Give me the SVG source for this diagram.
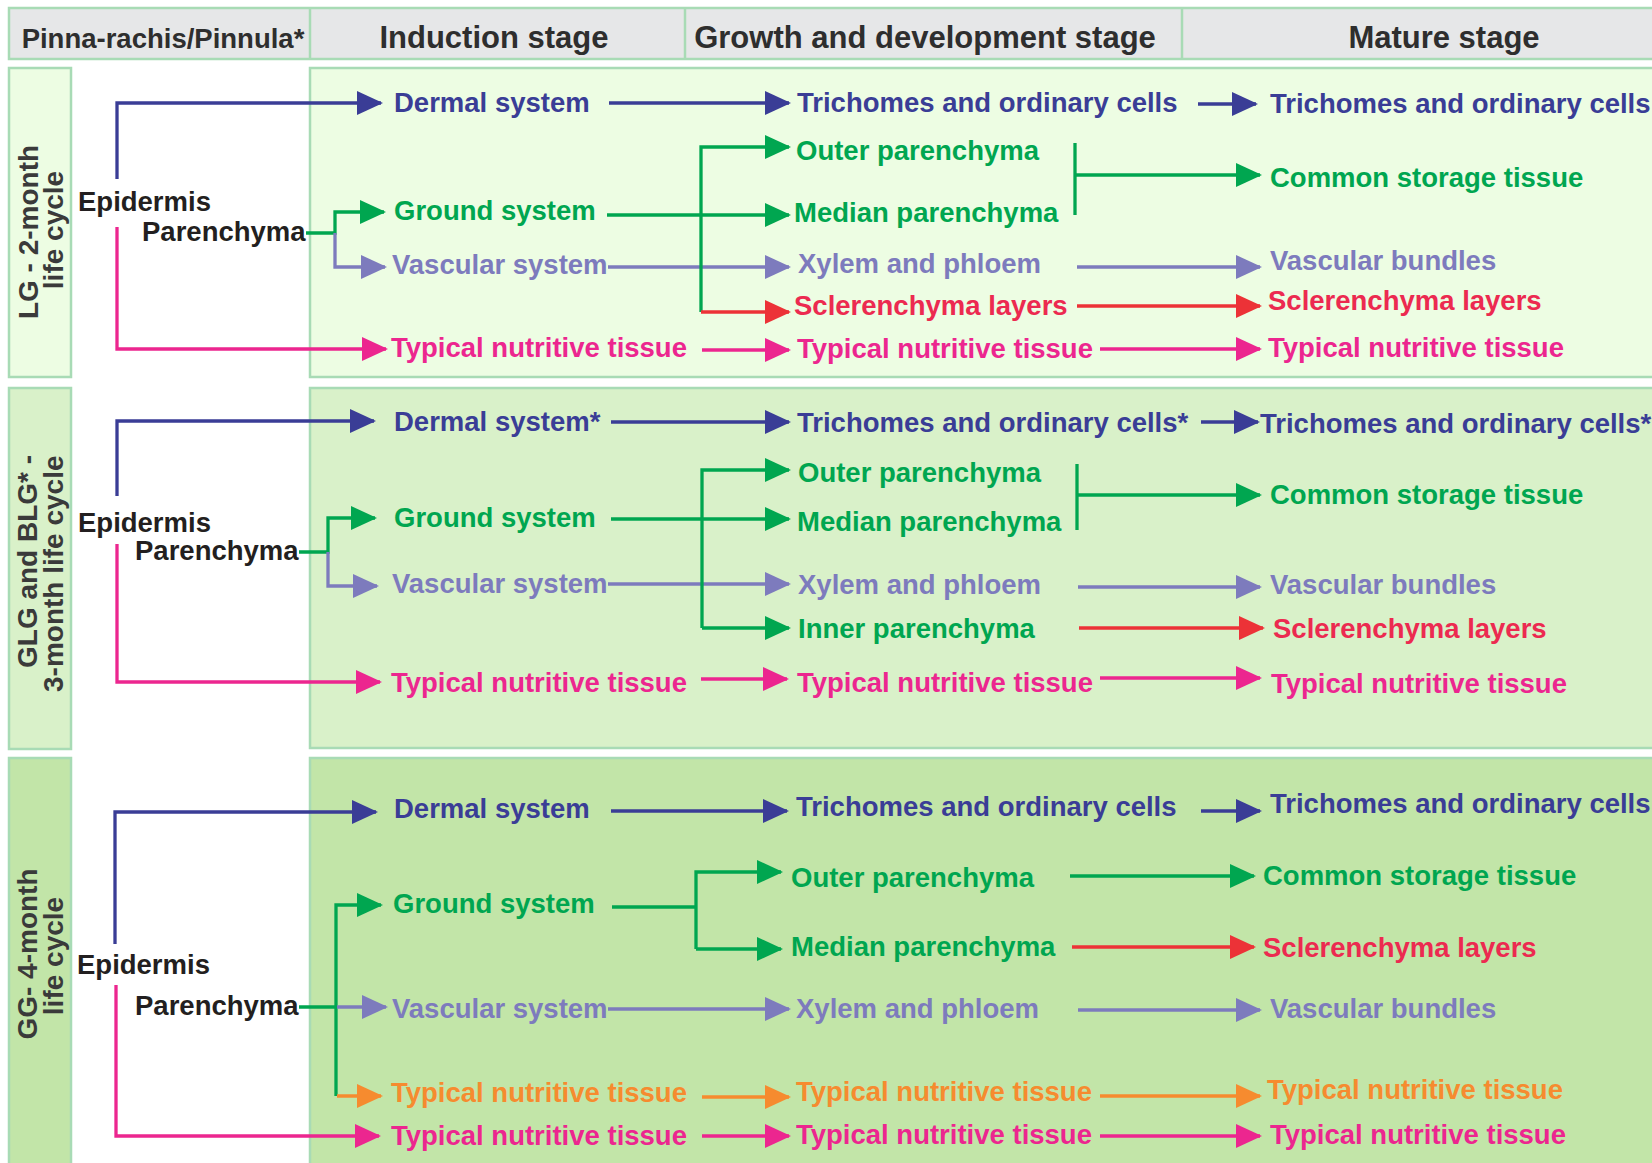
<svg xmlns="http://www.w3.org/2000/svg" width="1652" height="1163" viewBox="0 0 1652 1163">
<style>
text{font-family:"Liberation Sans",Arial,sans-serif;font-weight:bold;font-size:27.5px}
.hd{font-size:31px;fill:#2e2e2e;text-anchor:middle}
.lb{font-size:28px;fill:#3a3a3a}
.k{fill:#231f20}
.b{fill:#3a3d96}.g{fill:#00a650}.v{fill:#7d7bbd}.p{fill:#ec268f}.r{fill:#ec2a50}.o{fill:#f68b2f}
.box{stroke:#a8dbb5;stroke-width:2.5}
.c{fill:none;stroke-width:3.3}
.cb{stroke:#3a3d96}.cg{stroke:#00a650}.cv{stroke:#7d7bbd}.cp{stroke:#ec268f}.cr{stroke:#ec3237}.co{stroke:#f68b2f}
</style>
<defs>
<marker id="ab" markerUnits="userSpaceOnUse" markerWidth="26" markerHeight="24" refX="24" refY="12" orient="auto"><path d="M0,0 L26,12 L0,24 Z" fill="#3a3d96"/></marker>
<marker id="ag" markerUnits="userSpaceOnUse" markerWidth="26" markerHeight="24" refX="24" refY="12" orient="auto"><path d="M0,0 L26,12 L0,24 Z" fill="#00a650"/></marker>
<marker id="av" markerUnits="userSpaceOnUse" markerWidth="26" markerHeight="24" refX="24" refY="12" orient="auto"><path d="M0,0 L26,12 L0,24 Z" fill="#7d7bbd"/></marker>
<marker id="ap" markerUnits="userSpaceOnUse" markerWidth="26" markerHeight="24" refX="24" refY="12" orient="auto"><path d="M0,0 L26,12 L0,24 Z" fill="#ec268f"/></marker>
<marker id="ar" markerUnits="userSpaceOnUse" markerWidth="26" markerHeight="24" refX="24" refY="12" orient="auto"><path d="M0,0 L26,12 L0,24 Z" fill="#ec3237"/></marker>
<marker id="ao" markerUnits="userSpaceOnUse" markerWidth="26" markerHeight="24" refX="24" refY="12" orient="auto"><path d="M0,0 L26,12 L0,24 Z" fill="#f68b2f"/></marker>
</defs>
<rect width="1652" height="1163" fill="#ffffff"/>

<g id="header">
<rect class="box" x="9" y="8" width="1655" height="51" fill="#e6e7e8"/>
<line class="box" x1="310" y1="8" x2="310" y2="59"/>
<line class="box" x1="685" y1="8" x2="685" y2="59"/>
<line class="box" x1="1182" y1="8" x2="1182" y2="59"/>
<text class="hd" x="163" y="48" style="font-size:27.5px">Pinna-rachis/Pinnula*</text>
<text class="hd" x="494" y="48">Induction stage</text>
<text class="hd" x="925" y="48">Growth and development stage</text>
<text class="hd" x="1444" y="48">Mature stage</text>
</g>

<g id="panels">
<rect class="box" x="9" y="68" width="62" height="309" fill="#edfde3"/>
<rect class="box" x="310" y="68" width="1355" height="309" fill="#edfde3"/>
<rect class="box" x="9" y="388" width="62" height="361" fill="#d9f1c9"/>
<rect class="box" x="310" y="388" width="1355" height="360" fill="#d9f1c9"/>
<rect class="box" x="9" y="758" width="62" height="420" fill="#c2e5a8"/>
<rect class="box" x="310" y="758" width="1355" height="420" fill="#c2e5a8"/>
</g>

<g id="row-labels">
<text class="lb" text-anchor="middle" transform="translate(38,232) rotate(-90)">LG - 2-month</text>
<text class="lb" text-anchor="middle" transform="translate(63,230) rotate(-90)">life cycle</text>
<text class="lb" transform="translate(37,668) rotate(-90)">GLG and BLG* -</text>
<text class="lb" transform="translate(63,692) rotate(-90)">3-month life cycle</text>
<text class="lb" text-anchor="middle" transform="translate(37,954) rotate(-90)">GG- 4-month</text>
<text class="lb" text-anchor="middle" transform="translate(63,956) rotate(-90)">life cycle</text>
</g>

<g id="connectors">
<!-- panel 1 -->
<path class="c cb" d="M117,179 V103 H381" marker-end="url(#ab)"/>
<path class="c cp" d="M117,227 V349 H386" marker-end="url(#ap)"/>
<path class="c cg" d="M306,233 H335 V212 H384" marker-end="url(#ag)"/>
<path class="c cv" d="M335,233 V267 H385" marker-end="url(#av)"/>
<path class="c cb" d="M609,103 H789" marker-end="url(#ab)"/>
<path class="c cg" d="M607,215 H789" marker-end="url(#ag)"/>
<path class="c cv" d="M608,267 H789" marker-end="url(#av)"/>
<path class="c cg" d="M701,312 V147 H789" marker-end="url(#ag)"/>
<path class="c cr" d="M701,312 H789" marker-end="url(#ar)"/>
<path class="c cp" d="M702,350 H789" marker-end="url(#ap)"/>
<path class="c cb" d="M1198,104 H1256" marker-end="url(#ab)"/>
<path class="c cg" d="M1075,143 V215"/>
<path class="c cg" d="M1075,175 H1260" marker-end="url(#ag)"/>
<path class="c cv" d="M1077,267 H1260" marker-end="url(#av)"/>
<path class="c cr" d="M1077,306 H1260" marker-end="url(#ar)"/>
<path class="c cp" d="M1100,349 H1260" marker-end="url(#ap)"/>
<!-- panel 2 -->
<path class="c cb" d="M117,496 V421 H374" marker-end="url(#ab)"/>
<path class="c cp" d="M117,544 V682 H380" marker-end="url(#ap)"/>
<path class="c cg" d="M299,552 H328 V518 H375" marker-end="url(#ag)"/>
<path class="c cv" d="M328,552 V586 H377" marker-end="url(#av)"/>
<path class="c cb" d="M611,422 H789" marker-end="url(#ab)"/>
<path class="c cg" d="M611,519 H789" marker-end="url(#ag)"/>
<path class="c cv" d="M608,584 H789" marker-end="url(#av)"/>
<path class="c cg" d="M702,628 V470 H789" marker-end="url(#ag)"/>
<path class="c cg" d="M702,628 H789" marker-end="url(#ag)"/>
<path class="c cp" d="M701,679 H787" marker-end="url(#ap)"/>
<path class="c cb" d="M1201,422 H1258" marker-end="url(#ab)"/>
<path class="c cg" d="M1077,464 V530"/>
<path class="c cg" d="M1077,495 H1260" marker-end="url(#ag)"/>
<path class="c cv" d="M1078,587 H1260" marker-end="url(#av)"/>
<path class="c cr" d="M1079,628 H1263" marker-end="url(#ar)"/>
<path class="c cp" d="M1100,678 H1260" marker-end="url(#ap)"/>
<!-- panel 3 -->
<path class="c cb" d="M115,944 V812 H376" marker-end="url(#ab)"/>
<path class="c cp" d="M116,985 V1136 H379" marker-end="url(#ap)"/>
<path class="c cg" d="M299,1007 H336"/>
<path class="c cg" d="M336,1096 V905 H381" marker-end="url(#ag)"/>
<path class="c cv" d="M337,1007 H386" marker-end="url(#av)"/>
<path class="c co" d="M337,1096 H381" marker-end="url(#ao)"/>
<path class="c cb" d="M611,811 H787" marker-end="url(#ab)"/>
<path class="c cg" d="M612,907 H696"/>
<path class="c cg" d="M696,949 V872 H781" marker-end="url(#ag)"/>
<path class="c cg" d="M696,949 H781" marker-end="url(#ag)"/>
<path class="c cv" d="M608,1009 H789" marker-end="url(#av)"/>
<path class="c co" d="M702,1097 H789" marker-end="url(#ao)"/>
<path class="c cp" d="M702,1136 H789" marker-end="url(#ap)"/>
<path class="c cb" d="M1201,811 H1260" marker-end="url(#ab)"/>
<path class="c cg" d="M1070,876 H1254" marker-end="url(#ag)"/>
<path class="c cr" d="M1072,947 H1254" marker-end="url(#ar)"/>
<path class="c cv" d="M1078,1010 H1260" marker-end="url(#av)"/>
<path class="c co" d="M1100,1096 H1260" marker-end="url(#ao)"/>
<path class="c cp" d="M1100,1136 H1260" marker-end="url(#ap)"/>
</g>

<!-- panel 1 nodes -->
<g id="lg-epidermis"><text class="k" x="78" y="211">Epidermis</text></g>
<g id="lg-parenchyma"><text class="k" x="142" y="241">Parenchyma</text></g>
<g id="lg-dermal"><text class="b" x="394" y="112">Dermal system</text></g>
<g id="lg-ground"><text class="g" x="394" y="220">Ground system</text></g>
<g id="lg-vascular"><text class="v" x="392" y="274">Vascular system</text></g>
<g id="lg-nutritive-ind"><text class="p" x="391" y="357">Typical nutritive tissue</text></g>
<g id="lg-trichomes-grow"><text class="b" x="797" y="112">Trichomes and ordinary cells</text></g>
<g id="lg-outer"><text class="g" x="796" y="160">Outer parenchyma</text></g>
<g id="lg-median"><text class="g" x="794" y="222">Median parenchyma</text></g>
<g id="lg-xylem"><text class="v" x="798" y="273">Xylem and phloem</text></g>
<g id="lg-scler-grow"><text class="r" x="794" y="315">Sclerenchyma layers</text></g>
<g id="lg-nutritive-grow"><text class="p" x="797" y="358">Typical nutritive tissue</text></g>
<g id="lg-trichomes-mat"><text class="b" x="1270" y="113">Trichomes and ordinary cells</text></g>
<g id="lg-storage"><text class="g" x="1270" y="187">Common storage tissue</text></g>
<g id="lg-bundles"><text class="v" x="1270" y="270">Vascular bundles</text></g>
<g id="lg-scler-mat"><text class="r" x="1268" y="310">Sclerenchyma layers</text></g>
<g id="lg-nutritive-mat"><text class="p" x="1268" y="357">Typical nutritive tissue</text></g>

<!-- panel 2 nodes -->
<g id="glg-epidermis"><text class="k" x="78" y="532">Epidermis</text></g>
<g id="glg-parenchyma"><text class="k" x="135" y="560">Parenchyma</text></g>
<g id="glg-dermal"><text class="b" x="394" y="431">Dermal system*</text></g>
<g id="glg-ground"><text class="g" x="394" y="527">Ground system</text></g>
<g id="glg-vascular"><text class="v" x="392" y="593">Vascular system</text></g>
<g id="glg-nutritive-ind"><text class="p" x="391" y="692">Typical nutritive tissue</text></g>
<g id="glg-trichomes-grow"><text class="b" x="797" y="432">Trichomes and ordinary cells*</text></g>
<g id="glg-outer"><text class="g" x="798" y="482">Outer parenchyma</text></g>
<g id="glg-median"><text class="g" x="797" y="531">Median parenchyma</text></g>
<g id="glg-xylem"><text class="v" x="798" y="594">Xylem and phloem</text></g>
<g id="glg-inner"><text class="g" x="798" y="638">Inner parenchyma</text></g>
<g id="glg-nutritive-grow"><text class="p" x="797" y="692">Typical nutritive tissue</text></g>
<g id="glg-trichomes-mat"><text class="b" x="1260" y="433">Trichomes and ordinary cells*</text></g>
<g id="glg-storage"><text class="g" x="1270" y="504">Common storage tissue</text></g>
<g id="glg-bundles"><text class="v" x="1270" y="594">Vascular bundles</text></g>
<g id="glg-scler-mat"><text class="r" x="1273" y="638">Sclerenchyma layers</text></g>
<g id="glg-nutritive-mat"><text class="p" x="1271" y="693">Typical nutritive tissue</text></g>

<!-- panel 3 nodes -->
<g id="gg-epidermis"><text class="k" x="77" y="974">Epidermis</text></g>
<g id="gg-parenchyma"><text class="k" x="135" y="1015">Parenchyma</text></g>
<g id="gg-dermal"><text class="b" x="394" y="818">Dermal system</text></g>
<g id="gg-ground"><text class="g" x="393" y="913">Ground system</text></g>
<g id="gg-vascular"><text class="v" x="392" y="1018">Vascular system</text></g>
<g id="gg-nutritive-orange-ind"><text class="o" x="391" y="1102">Typical nutritive tissue</text></g>
<g id="gg-nutritive-ind"><text class="p" x="391" y="1145">Typical nutritive tissue</text></g>
<g id="gg-trichomes-grow"><text class="b" x="796" y="816">Trichomes and ordinary cells</text></g>
<g id="gg-outer"><text class="g" x="791" y="887">Outer parenchyma</text></g>
<g id="gg-median"><text class="g" x="791" y="956">Median parenchyma</text></g>
<g id="gg-xylem"><text class="v" x="796" y="1018">Xylem and phloem</text></g>
<g id="gg-nutritive-orange-grow"><text class="o" x="796" y="1101">Typical nutritive tissue</text></g>
<g id="gg-nutritive-grow"><text class="p" x="796" y="1144">Typical nutritive tissue</text></g>
<g id="gg-trichomes-mat"><text class="b" x="1270" y="813">Trichomes and ordinary cells</text></g>
<g id="gg-storage"><text class="g" x="1263" y="885">Common storage tissue</text></g>
<g id="gg-scler-mat"><text class="r" x="1263" y="957">Sclerenchyma layers</text></g>
<g id="gg-bundles"><text class="v" x="1270" y="1018">Vascular bundles</text></g>
<g id="gg-nutritive-orange-mat"><text class="o" x="1267" y="1099">Typical nutritive tissue</text></g>
<g id="gg-nutritive-mat"><text class="p" x="1270" y="1144">Typical nutritive tissue</text></g>
</svg>
